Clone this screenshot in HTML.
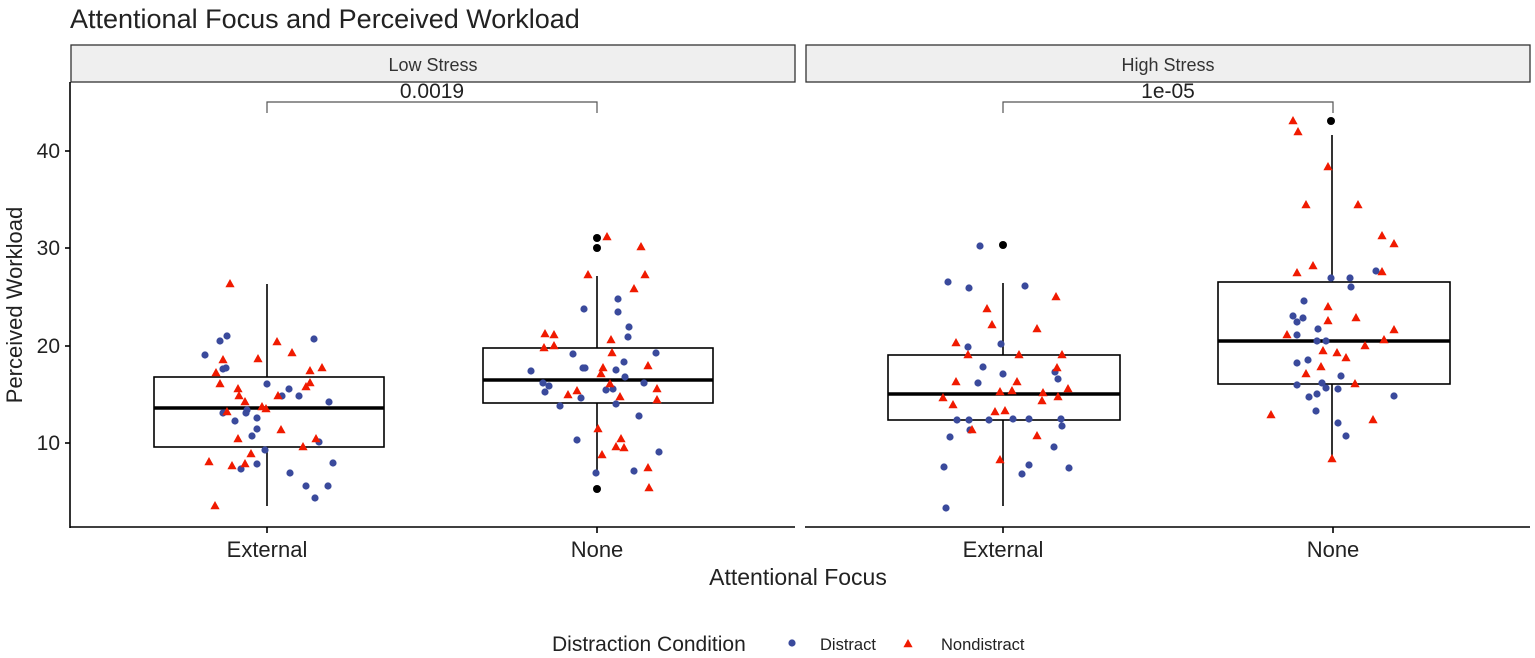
<!DOCTYPE html>
<html><head><meta charset="utf-8"><style>
html,body{margin:0;padding:0;background:#fff;}
svg{display:block;font-family:"Liberation Sans",Arial,sans-serif;}
</style></head><body>
<svg width="1535" height="658" viewBox="0 0 1535 658" xmlns="http://www.w3.org/2000/svg">
<defs>
<circle id="b" r="3.6" fill="#3a4a9c"/>
<path id="t" d="M0,-5 L4.6,3.2 L-4.6,3.2 Z" fill="#f01a00"/>
</defs>
<text x="70" y="28" font-size="27" fill="#222">Attentional Focus and Perceived Workload</text>
<!-- strips -->
<rect x="71" y="45" width="724" height="37" fill="#efefef" stroke="#333" stroke-width="1.3"/>
<rect x="806" y="45" width="724" height="37" fill="#efefef" stroke="#333" stroke-width="1.3"/>
<text x="433" y="71" font-size="18" text-anchor="middle" fill="#333">Low Stress</text>
<text x="1168" y="71" font-size="18" text-anchor="middle" fill="#333">High Stress</text>
<!-- axes -->
<g stroke="#000" stroke-width="1.6" fill="none">
<line x1="70" y1="82" x2="70" y2="528"/>
<line x1="70" y1="527" x2="795" y2="527"/>
<line x1="805" y1="527" x2="1530" y2="527"/>
<line x1="65" y1="151" x2="70" y2="151"/><line x1="65" y1="248" x2="70" y2="248"/>
<line x1="65" y1="346" x2="70" y2="346"/><line x1="65" y1="443" x2="70" y2="443"/>
<line x1="267" y1="527" x2="267" y2="533"/><line x1="597" y1="527" x2="597" y2="533"/>
<line x1="1003" y1="527" x2="1003" y2="533"/><line x1="1333" y1="527" x2="1333" y2="533"/>
</g>
<g font-size="21" fill="#222" text-anchor="end">
<text x="60" y="158">40</text><text x="60" y="255">30</text><text x="60" y="353">20</text><text x="60" y="450">10</text>
</g>
<g font-size="22" fill="#222" text-anchor="middle">
<text x="267" y="557">External</text><text x="597" y="557">None</text>
<text x="1003" y="557">External</text><text x="1333" y="557">None</text>
</g>
<text x="798" y="585" font-size="23" text-anchor="middle" fill="#222">Attentional Focus</text>
<text transform="translate(22,305) rotate(-90)" font-size="22" text-anchor="middle" fill="#222">Perceived Workload</text>
<!-- brackets -->
<g stroke="#555" stroke-width="1.2" fill="none">
<path d="M267,113 V102 H597 V113"/>
<path d="M1003,113 V102 H1333 V113"/>
</g>
<text x="432" y="98" font-size="21" text-anchor="middle" fill="#222">0.0019</text>
<text x="1168" y="98" font-size="21" text-anchor="middle" fill="#222">1e-05</text>
<!-- boxes -->
<g stroke="#000" stroke-width="1.6" fill="none">
<line x1="267" y1="284" x2="267" y2="377"/><line x1="267" y1="447" x2="267" y2="506"/>
<rect x="154" y="377" width="230" height="70"/>
<line x1="597" y1="276" x2="597" y2="348"/><line x1="597" y1="403" x2="597" y2="473"/>
<rect x="483" y="348" width="230" height="55"/>
<line x1="1003" y1="283" x2="1003" y2="355"/><line x1="1003" y1="420" x2="1003" y2="506"/>
<rect x="888" y="355" width="232" height="65"/>
<line x1="1332" y1="135" x2="1332" y2="282"/><line x1="1332" y1="384" x2="1332" y2="459"/>
<rect x="1218" y="282" width="232" height="102"/>
</g>
<g stroke="#000" stroke-width="3.5">
<line x1="154" y1="408" x2="384" y2="408"/>
<line x1="483" y1="380" x2="713" y2="380"/>
<line x1="888" y1="394" x2="1120" y2="394"/>
<line x1="1218" y1="341" x2="1450" y2="341"/>
</g>
<!-- outliers -->
<g fill="#000">
<circle cx="597" cy="238" r="4"/><circle cx="597" cy="248" r="4"/><circle cx="597" cy="489" r="4"/>
<circle cx="1003" cy="245" r="4"/><circle cx="1331" cy="121" r="4"/>
</g>
<!-- Low External -->
<g>
<use href="#b" x="205" y="355"/><use href="#b" x="220" y="341"/><use href="#b" x="227" y="336"/><use href="#b" x="223" y="369"/><use href="#b" x="226" y="368"/><use href="#b" x="267" y="384"/><use href="#b" x="289" y="389"/><use href="#b" x="282" y="396"/><use href="#b" x="299" y="396"/><use href="#b" x="329" y="402"/><use href="#b" x="314" y="339"/><use href="#b" x="223" y="413"/><use href="#b" x="247" y="410"/><use href="#b" x="246" y="413"/><use href="#b" x="257" y="418"/><use href="#b" x="235" y="421"/><use href="#b" x="257" y="429"/><use href="#b" x="252" y="436"/><use href="#b" x="265" y="450"/><use href="#b" x="319" y="442"/><use href="#b" x="241" y="469"/><use href="#b" x="257" y="464"/><use href="#b" x="290" y="473"/><use href="#b" x="333" y="463"/><use href="#b" x="306" y="486"/><use href="#b" x="328" y="486"/><use href="#b" x="315" y="498"/>
<use href="#t" x="230" y="284"/><use href="#t" x="277" y="342"/><use href="#t" x="292" y="353"/><use href="#t" x="223" y="360"/><use href="#t" x="258" y="359"/><use href="#t" x="216" y="373"/><use href="#t" x="310" y="371"/><use href="#t" x="322" y="368"/><use href="#t" x="220" y="384"/><use href="#t" x="238" y="389"/><use href="#t" x="239" y="396"/><use href="#t" x="245" y="402"/><use href="#t" x="262" y="407"/><use href="#t" x="266" y="409"/><use href="#t" x="278" y="396"/><use href="#t" x="306" y="387"/><use href="#t" x="310" y="383"/><use href="#t" x="227" y="412"/><use href="#t" x="281" y="430"/><use href="#t" x="238" y="439"/><use href="#t" x="316" y="439"/><use href="#t" x="303" y="447"/><use href="#t" x="251" y="454"/><use href="#t" x="209" y="462"/><use href="#t" x="232" y="466"/><use href="#t" x="245" y="464"/><use href="#t" x="215" y="506"/>
</g>
<!-- Low None -->
<g>
<use href="#b" x="584" y="309"/><use href="#b" x="618" y="299"/><use href="#b" x="618" y="312"/><use href="#b" x="629" y="327"/><use href="#b" x="628" y="337"/><use href="#b" x="573" y="354"/><use href="#b" x="531" y="371"/><use href="#b" x="583" y="368"/><use href="#b" x="585" y="368"/><use href="#b" x="624" y="362"/><use href="#b" x="616" y="370"/><use href="#b" x="625" y="377"/><use href="#b" x="656" y="353"/><use href="#b" x="543" y="383"/><use href="#b" x="549" y="386"/><use href="#b" x="545" y="392"/><use href="#b" x="581" y="398"/><use href="#b" x="606" y="390"/><use href="#b" x="613" y="389"/><use href="#b" x="644" y="383"/><use href="#b" x="560" y="406"/><use href="#b" x="616" y="404"/><use href="#b" x="639" y="416"/><use href="#b" x="577" y="440"/><use href="#b" x="659" y="452"/><use href="#b" x="596" y="473"/><use href="#b" x="634" y="471"/>
<use href="#t" x="607" y="237"/><use href="#t" x="641" y="247"/><use href="#t" x="588" y="275"/><use href="#t" x="645" y="275"/><use href="#t" x="634" y="289"/><use href="#t" x="545" y="334"/><use href="#t" x="554" y="335"/><use href="#t" x="544" y="348"/><use href="#t" x="554" y="346"/><use href="#t" x="611" y="340"/><use href="#t" x="612" y="353"/><use href="#t" x="648" y="366"/><use href="#t" x="603" y="368"/><use href="#t" x="601" y="374"/><use href="#t" x="610" y="384"/><use href="#t" x="577" y="391"/><use href="#t" x="568" y="395"/><use href="#t" x="620" y="397"/><use href="#t" x="657" y="389"/><use href="#t" x="657" y="400"/><use href="#t" x="598" y="429"/><use href="#t" x="621" y="439"/><use href="#t" x="616" y="447"/><use href="#t" x="624" y="448"/><use href="#t" x="602" y="455"/><use href="#t" x="648" y="468"/><use href="#t" x="649" y="488"/>
</g>
<!-- High External -->
<g>
<use href="#b" x="980" y="246"/><use href="#b" x="948" y="282"/><use href="#b" x="969" y="288"/><use href="#b" x="1025" y="286"/><use href="#b" x="968" y="347"/><use href="#b" x="1001" y="344"/><use href="#b" x="983" y="367"/><use href="#b" x="1003" y="374"/><use href="#b" x="978" y="383"/><use href="#b" x="1055" y="372"/><use href="#b" x="1058" y="379"/><use href="#b" x="957" y="420"/><use href="#b" x="969" y="420"/><use href="#b" x="989" y="420"/><use href="#b" x="1013" y="419"/><use href="#b" x="1029" y="419"/><use href="#b" x="1061" y="419"/><use href="#b" x="1062" y="426"/><use href="#b" x="970" y="430"/><use href="#b" x="950" y="437"/><use href="#b" x="1054" y="447"/><use href="#b" x="944" y="467"/><use href="#b" x="1029" y="465"/><use href="#b" x="1022" y="474"/><use href="#b" x="1069" y="468"/><use href="#b" x="946" y="508"/>
<use href="#t" x="1056" y="297"/><use href="#t" x="987" y="309"/><use href="#t" x="992" y="325"/><use href="#t" x="1037" y="329"/><use href="#t" x="956" y="343"/><use href="#t" x="968" y="355"/><use href="#t" x="1019" y="355"/><use href="#t" x="1062" y="355"/><use href="#t" x="1057" y="368"/><use href="#t" x="956" y="382"/><use href="#t" x="1017" y="382"/><use href="#t" x="1012" y="391"/><use href="#t" x="1000" y="392"/><use href="#t" x="1043" y="393"/><use href="#t" x="1068" y="389"/><use href="#t" x="1058" y="397"/><use href="#t" x="943" y="398"/><use href="#t" x="1042" y="401"/><use href="#t" x="953" y="405"/><use href="#t" x="995" y="412"/><use href="#t" x="1005" y="411"/><use href="#t" x="972" y="430"/><use href="#t" x="1037" y="436"/><use href="#t" x="1000" y="460"/>
</g>
<!-- High None -->
<g>
<use href="#b" x="1331" y="278"/><use href="#b" x="1350" y="278"/><use href="#b" x="1351" y="287"/><use href="#b" x="1376" y="271"/><use href="#b" x="1304" y="301"/><use href="#b" x="1293" y="316"/><use href="#b" x="1303" y="318"/><use href="#b" x="1297" y="322"/><use href="#b" x="1318" y="329"/><use href="#b" x="1297" y="335"/><use href="#b" x="1317" y="341"/><use href="#b" x="1326" y="341"/><use href="#b" x="1297" y="363"/><use href="#b" x="1308" y="360"/><use href="#b" x="1341" y="376"/><use href="#b" x="1297" y="385"/><use href="#b" x="1322" y="383"/><use href="#b" x="1326" y="388"/><use href="#b" x="1338" y="389"/><use href="#b" x="1309" y="397"/><use href="#b" x="1317" y="394"/><use href="#b" x="1394" y="396"/><use href="#b" x="1316" y="411"/><use href="#b" x="1338" y="423"/><use href="#b" x="1346" y="436"/>
<use href="#t" x="1293" y="121"/><use href="#t" x="1298" y="132"/><use href="#t" x="1328" y="167"/><use href="#t" x="1306" y="205"/><use href="#t" x="1358" y="205"/><use href="#t" x="1382" y="236"/><use href="#t" x="1394" y="244"/><use href="#t" x="1297" y="273"/><use href="#t" x="1313" y="266"/><use href="#t" x="1382" y="272"/><use href="#t" x="1328" y="307"/><use href="#t" x="1328" y="321"/><use href="#t" x="1356" y="318"/><use href="#t" x="1394" y="330"/><use href="#t" x="1287" y="335"/><use href="#t" x="1384" y="340"/><use href="#t" x="1365" y="346"/><use href="#t" x="1323" y="351"/><use href="#t" x="1337" y="353"/><use href="#t" x="1346" y="358"/><use href="#t" x="1321" y="367"/><use href="#t" x="1306" y="374"/><use href="#t" x="1355" y="384"/><use href="#t" x="1271" y="415"/><use href="#t" x="1373" y="420"/><use href="#t" x="1332" y="459"/>
</g>
<!-- legend -->
<text x="552" y="651" font-size="21" fill="#222">Distraction Condition</text>
<use href="#b" x="792" y="643"/>
<text x="820" y="650" font-size="16.5" fill="#222">Distract</text>
<use href="#t" x="908" y="644"/>
<text x="941" y="650" font-size="16.5" fill="#222">Nondistract</text>
</svg>
</body></html>
